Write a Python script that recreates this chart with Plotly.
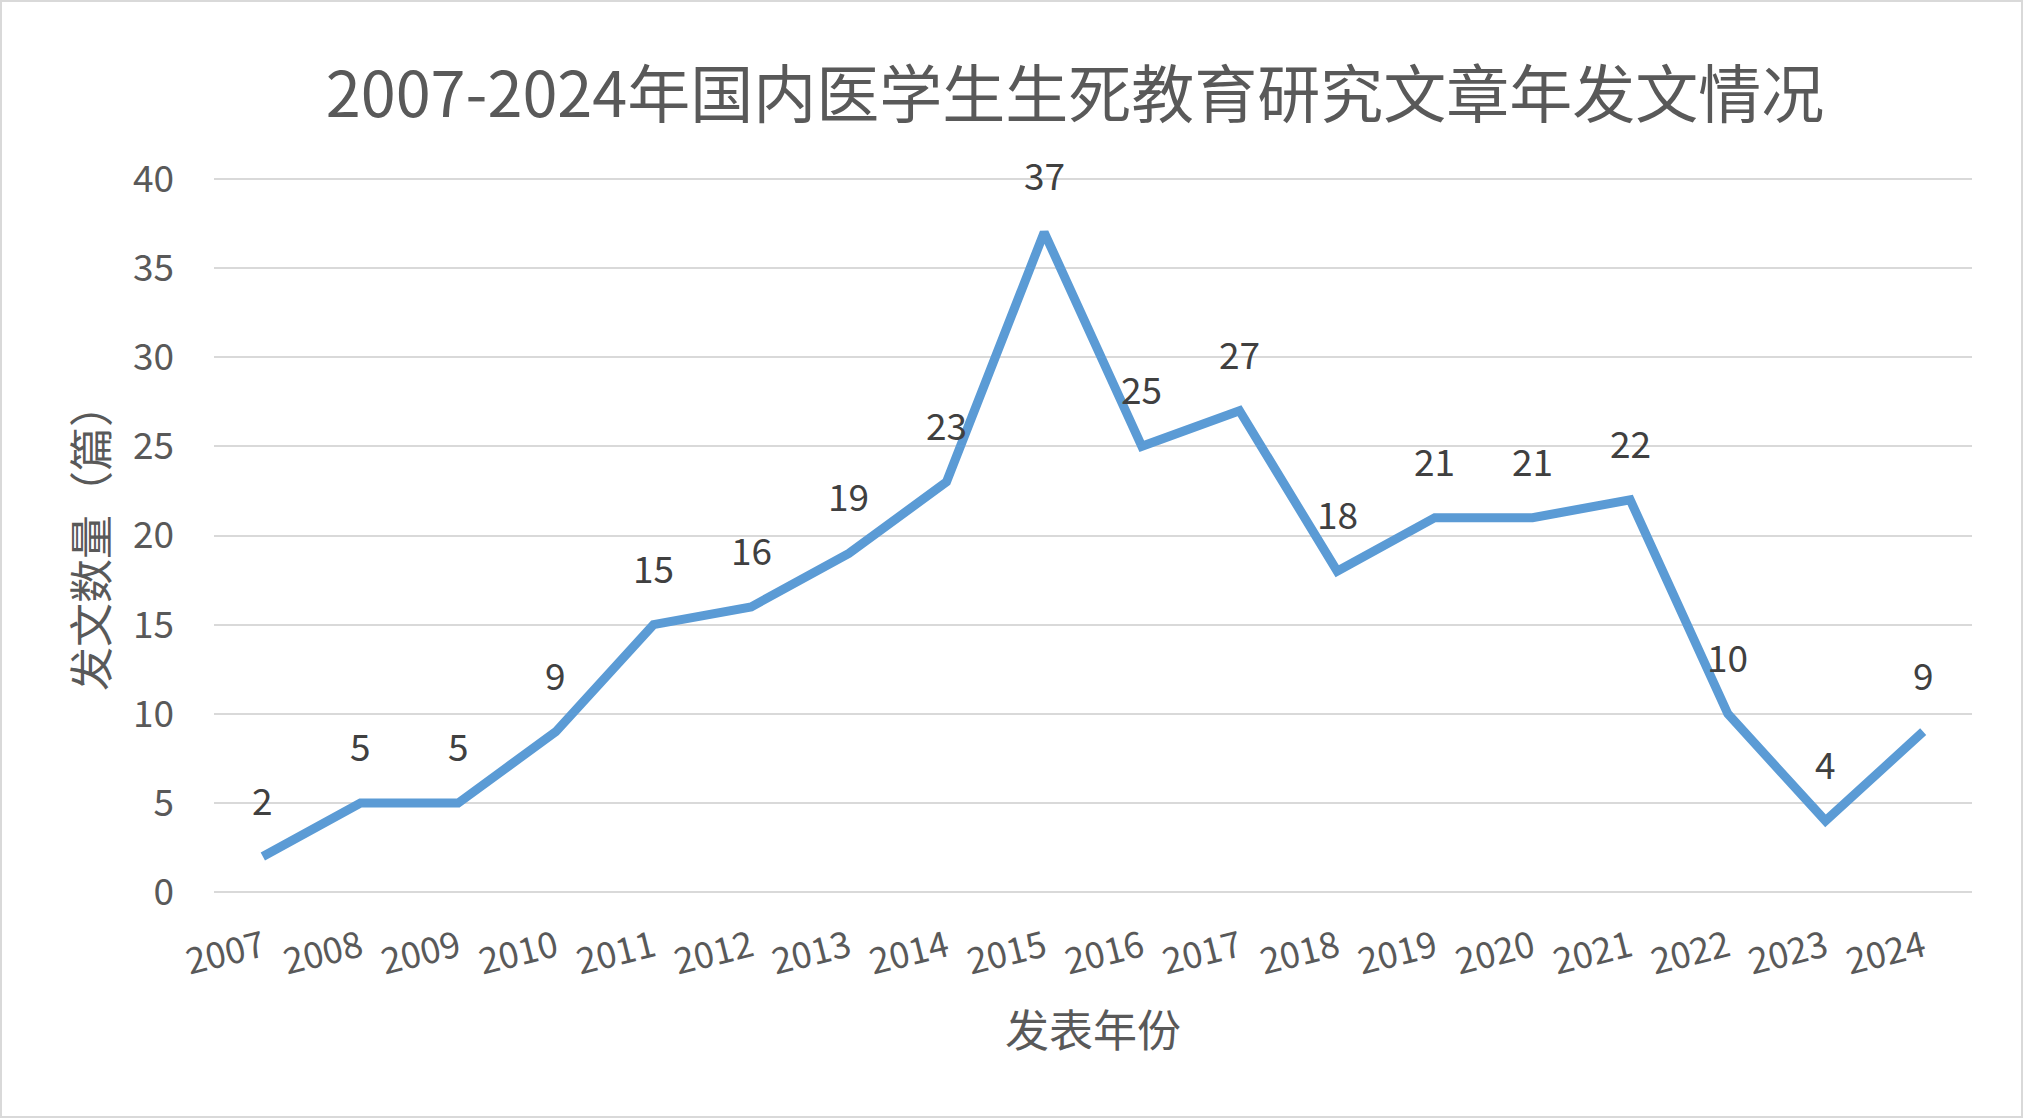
import plotly.graph_objects as go

years = ["2007", "2008", "2009", "2010", "2011", "2012", "2013", "2014", "2015",
         "2016", "2017", "2018", "2019", "2020", "2021", "2022", "2023", "2024"]
counts = [2, 5, 5, 9, 15, 16, 19, 23, 37, 25, 27, 18, 21, 21, 22, 10, 4, 9]
y_ticks = [0, 5, 10, 15, 20, 25, 30, 35, 40]

title_text = "2007-2024年国内医学生生死教育研究文章年发文情况"
x_title = "发表年份"
y_title = "发文数量（篇）"

W, H = 2024, 1119
ML, MR, MT, MB = 214, 52, 177, 225
FONT = "Noto Sans CJK SC, Noto Sans, sans-serif"

fig = go.Figure()
fig.add_trace(go.Scatter(
    x=years, y=counts, mode="lines",
    line=dict(color="#5B9BD5", width=9, shape="linear"),
    hoverinfo="x+y", showlegend=False,
))

annotations = []
for i, yv in enumerate(counts):
    annotations.append(dict(
        x=i, y=yv, xref="x", yref="y", text=str(yv), showarrow=False,
        yshift=58, font=dict(family=FONT, size=37, color="#404040"),
        xanchor="center", yanchor="middle",
    ))

pw = W - ML - MR
ph = H - MT - MB
# axis titles
annotations.append(dict(
    x=0.5, y=0, xref="paper", yref="paper", text=x_title, showarrow=False,
    yshift=-(1028 - (H - MB)), xanchor="center", yanchor="middle",
    font=dict(family=FONT, size=44, color="#595959"),
))
annotations.append(dict(
    x=0, y=(H - MB - 537) / ph, xref="paper", yref="paper", text=y_title,
    showarrow=False, xshift=-(ML - 89), textangle=-90,
    xanchor="center", yanchor="middle",
    font=dict(family=FONT, size=44, color="#595959"),
))

fig.update_layout(
    width=W, height=H,
    margin=dict(l=ML, r=MR, t=MT, b=MB, autoexpand=False),
    paper_bgcolor="white", plot_bgcolor="white",
    title=dict(text=title_text, x=1075 / W, xanchor="center", xref="container",
               y=1 - 95 / H, yanchor="middle", yref="container",
               font=dict(family=FONT, size=63, color="#595959")),
    font=dict(family=FONT, color="#595959"),
    annotations=annotations,
    shapes=[dict(type="rect", xref="paper", yref="paper",
                 x0=-(ML - 1) / pw, x1=1 + (MR - 2) / pw,
                 y0=-(MB - 2) / ph, y1=1 + (MT - 1) / ph,
                 line=dict(color="#D9D9D9", width=2), layer="below")],
)

fig.update_xaxes(
    type="category", range=[-0.5, len(years) - 0.5],
    showgrid=False, showline=False, zeroline=False,
    tickangle=-14, ticks="", ticklabelstandoff=25,
    tickfont=dict(family=FONT, size=36, color="#595959"),
)
fig.update_yaxes(
    range=[-0.1, 40.1], tickvals=y_ticks, ticktext=[str(v) for v in y_ticks],
    showgrid=True, gridcolor="#D9D9D9", gridwidth=2,
    zeroline=False, showline=False, ticks="", ticklabelstandoff=39,
    tickfont=dict(family=FONT, size=37, color="#595959"),
)

fig.write_html("out.html", config={"displayModeBar": False},
               post_script="document.body.style.margin='0';document.body.style.overflow='hidden';")
